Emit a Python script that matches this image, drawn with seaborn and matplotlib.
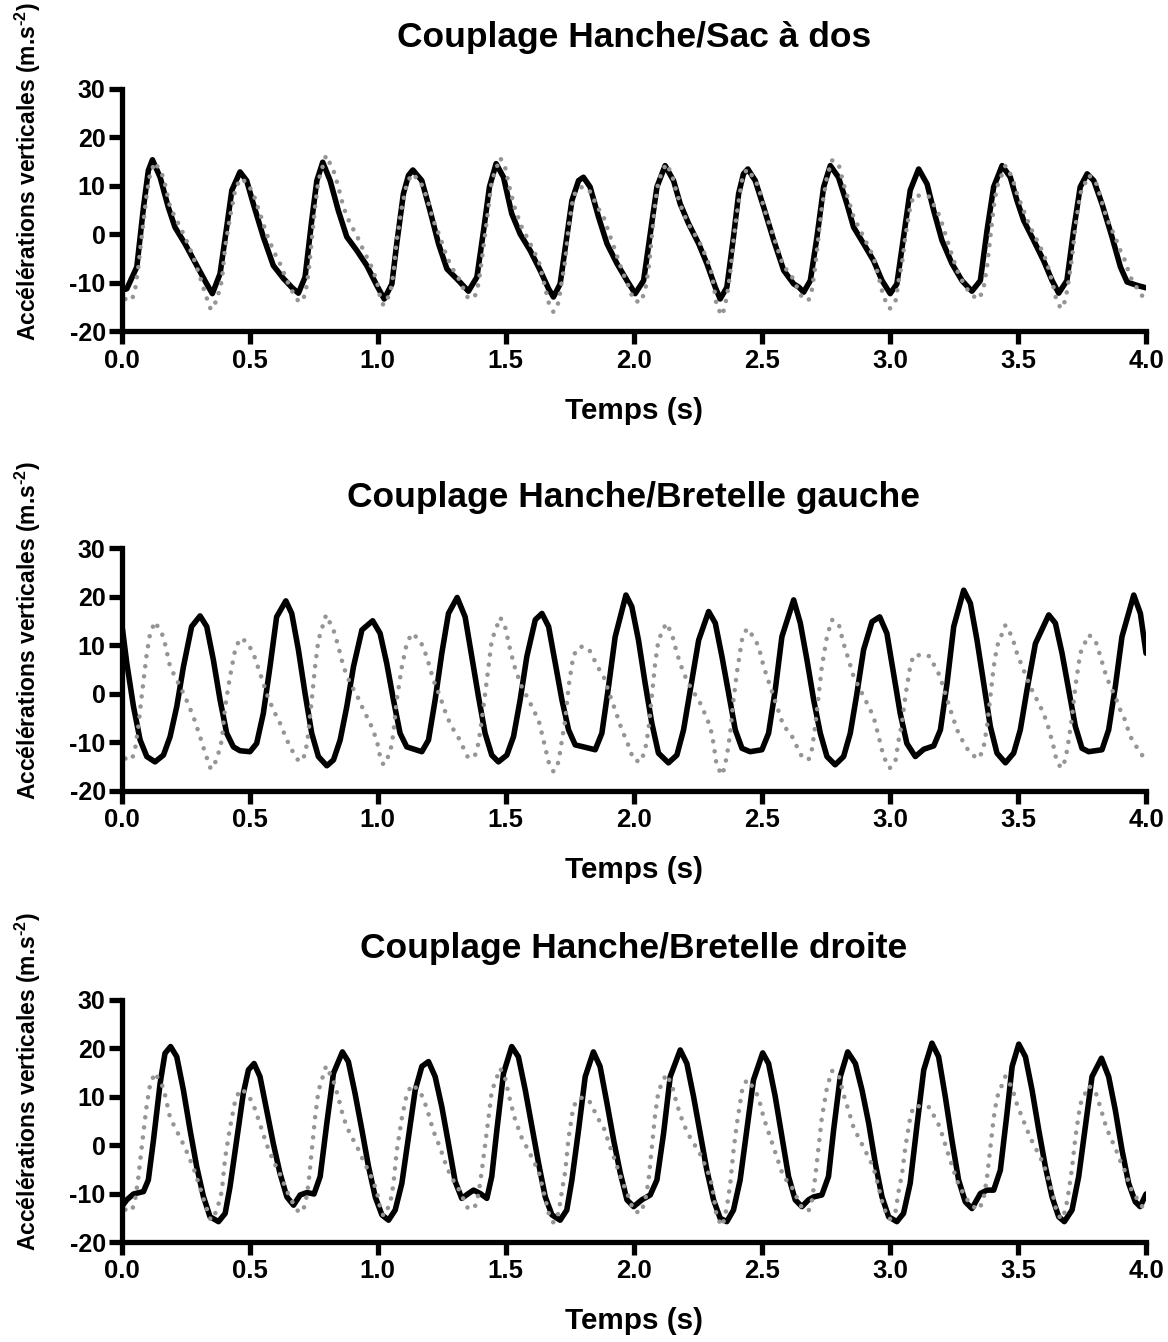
import matplotlib
matplotlib.use('Agg')
import pandas as pd
import matplotlib.pyplot as plt
import seaborn as sns

FIGURE_SIZE = (11.68, 13.42)
FIGURE_DPI = 100

# signal de la hanche (pointillés gris), le même dans les trois graphes
HIP_TIME = [0.000, 0.013, 0.039, 0.052, 0.065, 0.078, 0.098, 0.111, 0.130, 0.163, 0.189, 0.215, 0.247, 0.280,
            0.306, 0.326, 0.348, 0.371, 0.391, 0.404, 0.423, 0.443, 0.462, 0.488, 0.514, 0.540, 0.566, 0.592,
            0.618, 0.645, 0.671, 0.693, 0.716, 0.729, 0.742, 0.755, 0.768, 0.798, 0.827, 0.846, 0.866, 0.892,
            0.918, 0.944, 0.970, 0.996, 1.009, 1.022, 1.048, 1.061, 1.074, 1.094, 1.113, 1.133, 1.165, 1.191,
            1.217, 1.243, 1.270, 1.296, 1.315, 1.335, 1.354, 1.380, 1.393, 1.406, 1.426, 1.445, 1.478, 1.497,
            1.517, 1.536, 1.562, 1.589, 1.608, 1.628, 1.647, 1.667, 1.686, 1.706, 1.719, 1.732, 1.745, 1.764,
            1.790, 1.823, 1.842, 1.862, 1.882, 1.908, 1.927, 1.953, 1.973, 1.999, 2.027, 2.044, 2.057, 2.070,
            2.083, 2.096, 2.126, 2.148, 2.168, 2.194, 2.220, 2.240, 2.259, 2.279, 2.298, 2.311, 2.324, 2.346,
            2.363, 2.376, 2.389, 2.402, 2.422, 2.441, 2.467, 2.487, 2.507, 2.533, 2.559, 2.585, 2.611, 2.637,
            2.656, 2.682, 2.695, 2.708, 2.721, 2.734, 2.754, 2.773, 2.799, 2.819, 2.839, 2.858, 2.878, 2.897,
            2.917, 2.936, 2.956, 2.975, 2.999, 3.021, 3.034, 3.047, 3.060, 3.079, 3.092, 3.112, 3.154, 3.174,
            3.193, 3.206, 3.219, 3.232, 3.245, 3.262, 3.275, 3.294, 3.320, 3.349, 3.366, 3.379, 3.392, 3.405,
            3.418, 3.451, 3.477, 3.496, 3.522, 3.548, 3.574, 3.600, 3.620, 3.639, 3.650, 3.668, 3.685, 3.698,
            3.711, 3.724, 3.743, 3.776, 3.802, 3.822, 3.841, 3.861, 3.880, 3.893, 3.913, 3.939, 3.958, 3.984,
            4.000]
HIP_ACC = [-11.4, -13.3, -13.6, -11.5, -6.7, -0.5, 8.4, 12.5, 14.9, 11.8, 5.6, 2.9, -0.5, -4.7,
           -8.8, -12.2, -15.5, -13.6, -9.5, -2.6, 3.6, 9.1, 11.5, 10.8, 8.4, 4.3, 0.1, -3.3,
           -6.0, -9.5, -12.2, -14.0, -12.6, -8.1, -1.2, 5.6, 11.1, 16.3, 13.2, 9.8, 5.6, 2.2,
           -0.2, -3.3, -6.0, -9.5, -12.9, -14.6, -12.2, -8.1, -1.2, 5.6, 10.4, 12.5, 11.1, 7.7,
           2.9, -0.5, -4.7, -7.4, -9.0, -11.2, -13.3, -12.6, -10.2, -5.4, 2.9, 11.1, 15.8, 13.9,
           9.1, 5.3, 1.5, -1.2, -3.3, -5.4, -9.5, -14.0, -16.0, -14.0, -9.5, -5.4, 1.5, 8.0,
           9.8, 9.4, 7.4, 5.3, 3.6, -0.5, -3.3, -7.4, -9.8, -13.6, -14.0, -11.5, -7.4, -0.5,
           6.3, 11.1, 14.6, 12.5, 8.4, 4.3, 1.5, -0.2, -1.9, -4.3, -6.7, -10.2, -15.0, -16.7,
           -12.9, -8.1, -1.2, 4.3, 11.1, 13.5, 11.8, 9.8, 5.6, 1.5, -2.6, -6.7, -8.0, -10.9,
           -12.9, -13.6, -11.5, -6.7, -0.5, 5.6, 11.8, 15.3, 14.6, 10.4, 7.0, 3.6, 1.5, -0.5,
           -2.6, -4.7, -8.8, -12.9, -15.3, -14.0, -9.5, -6.0, -0.5, 5.6, 8.0, 8.0, 7.8, 5.8,
           3.9, 1.8, -0.4, -2.6, -4.7, -7.4, -8.8, -10.7, -12.6, -13.3, -10.9, -6.7, -0.5, 5.6,
           9.8, 14.2, 11.8, 8.4, 4.9, 1.5, -1.2, -4.0, -7.1, -10.9, -13.6, -15.3, -13.6, -9.5,
           -4.7, 1.5, 8.4, 12.2, 11.1, 7.7, 4.3, 1.5, -0.5, -2.6, -4.7, -8.8, -10.5, -12.6,
           -13.0]

# sac à dos (trait noir, graphe du haut)
SAC_TIME = [0.000, 0.020, 0.059, 0.085, 0.104, 0.120, 0.150, 0.182, 0.208, 0.247, 0.293, 0.332, 0.354, 0.384,
            0.410, 0.430, 0.462, 0.488, 0.514, 0.553, 0.592, 0.632, 0.664, 0.690, 0.716, 0.742, 0.762, 0.785,
            0.814, 0.846, 0.879, 0.918, 0.957, 0.996, 1.025, 1.055, 1.074, 1.100, 1.120, 1.137, 1.172, 1.204,
            1.237, 1.270, 1.315, 1.354, 1.387, 1.413, 1.436, 1.462, 1.491, 1.523, 1.556, 1.595, 1.634, 1.667,
            1.686, 1.712, 1.738, 1.758, 1.784, 1.803, 1.829, 1.862, 1.895, 1.934, 1.973, 2.005, 2.038, 2.064,
            2.090, 2.122, 2.155, 2.181, 2.214, 2.253, 2.285, 2.318, 2.337, 2.363, 2.389, 2.409, 2.428, 2.445,
            2.474, 2.507, 2.546, 2.585, 2.624, 2.645, 2.663, 2.689, 2.715, 2.741, 2.767, 2.799, 2.832, 2.858,
            2.897, 2.936, 2.969, 3.001, 3.027, 3.053, 3.079, 3.112, 3.145, 3.171, 3.203, 3.242, 3.281, 3.320,
            3.353, 3.379, 3.405, 3.438, 3.470, 3.496, 3.522, 3.561, 3.600, 3.633, 3.659, 3.691, 3.717, 3.743,
            3.770, 3.796, 3.828, 3.867, 3.900, 3.926, 3.965, 4.000]
SAC_ACC = [-11.5, -11.2, -6.7, 5.6, 13.2, 15.4, 11.8, 5.6, 1.5, -1.9, -6.4, -10.2, -12.2, -8.1,
           1.5, 9.1, 12.9, 11.1, 6.3, -0.5, -6.4, -9.1, -10.9, -12.1, -8.8, 2.9, 11.1, 14.9,
           11.1, 4.9, -0.5, -3.3, -6.4, -10.5, -13.3, -10.2, -1.9, 8.4, 12.2, 13.3, 11.1, 4.9,
           -1.9, -7.1, -9.5, -11.7, -8.8, 0.8, 9.8, 14.6, 11.8, 4.3, 0.1, -3.3, -7.4, -11.2,
           -12.9, -10.2, -0.5, 7.0, 11.1, 11.8, 9.8, 3.6, -1.9, -6.0, -9.5, -12.2, -9.5, 0.1,
           9.8, 14.2, 11.1, 6.3, 2.2, -1.9, -6.0, -10.9, -13.3, -10.9, -0.5, 8.4, 12.5, 13.5,
           11.1, 5.6, -1.2, -7.4, -10.2, -10.9, -11.9, -9.5, -0.5, 9.8, 14.2, 11.8, 6.3, 1.5,
           -1.9, -5.4, -9.5, -12.2, -10.2, -0.5, 9.1, 13.5, 10.4, 4.9, -1.2, -6.0, -9.5, -11.7,
           -9.5, 0.8, 9.8, 14.2, 11.8, 7.0, 2.9, -1.2, -5.4, -9.5, -12.1, -9.5, 0.8, 9.8,
           12.5, 11.1, 6.3, -0.5, -6.7, -9.8, -10.5, -11.0]

# bretelle gauche (trait noir, graphe du milieu)
GAUCHE_TIME = [0.000, 0.020, 0.046, 0.072, 0.098, 0.130, 0.163, 0.189, 0.215, 0.241, 0.273, 0.306, 0.332, 0.358,
               0.384, 0.410, 0.436, 0.462, 0.501, 0.527, 0.553, 0.579, 0.605, 0.641, 0.664, 0.690, 0.716, 0.742,
               0.768, 0.801, 0.827, 0.853, 0.879, 0.905, 0.938, 0.980, 1.009, 1.035, 1.061, 1.087, 1.113, 1.172,
               1.198, 1.224, 1.250, 1.276, 1.310, 1.341, 1.367, 1.393, 1.419, 1.445, 1.471, 1.504, 1.530, 1.556,
               1.582, 1.615, 1.641, 1.667, 1.693, 1.719, 1.745, 1.771, 1.803, 1.849, 1.875, 1.901, 1.927, 1.969,
               1.992, 2.018, 2.044, 2.070, 2.096, 2.135, 2.168, 2.194, 2.220, 2.253, 2.292, 2.318, 2.344, 2.370,
               2.396, 2.422, 2.454, 2.500, 2.526, 2.552, 2.578, 2.624, 2.650, 2.676, 2.702, 2.728, 2.754, 2.786,
               2.819, 2.845, 2.871, 2.897, 2.930, 2.960, 2.988, 3.014, 3.040, 3.066, 3.099, 3.132, 3.171, 3.197,
               3.223, 3.249, 3.288, 3.314, 3.340, 3.366, 3.392, 3.418, 3.451, 3.483, 3.509, 3.535, 3.568, 3.620,
               3.646, 3.672, 3.698, 3.724, 3.750, 3.776, 3.828, 3.854, 3.880, 3.906, 3.952, 3.978, 4.000]
GAUCHE_ACC = [14.6, 6.3, -2.6, -9.5, -12.9, -14.0, -12.6, -8.8, -2.6, 5.6, 13.9, 16.1, 13.9, 7.0,
              -1.2, -8.1, -10.9, -11.7, -11.9, -10.2, -4.0, 5.6, 15.9, 19.2, 16.6, 9.1, 0.1, -8.1,
              -12.9, -14.8, -13.6, -9.5, -2.6, 5.6, 13.2, 15.1, 12.5, 6.3, -1.2, -8.1, -10.9, -11.9,
              -9.5, -1.2, 8.4, 16.6, 19.9, 15.9, 7.7, -0.5, -8.1, -12.6, -14.0, -12.6, -8.8, -1.2,
              7.7, 15.3, 16.6, 13.9, 6.3, -1.2, -7.4, -10.5, -10.9, -11.5, -8.1, 1.5, 11.8, 20.4,
              18.0, 11.1, 2.2, -6.0, -12.2, -14.2, -12.6, -7.4, 0.8, 11.1, 17.0, 14.6, 7.7, 0.1,
              -7.4, -11.2, -11.9, -11.5, -8.1, 0.8, 11.8, 19.4, 14.6, 7.0, -1.2, -8.1, -12.9, -14.6,
              -12.9, -8.1, 0.1, 9.1, 14.9, 15.9, 12.5, 4.3, -4.0, -10.2, -12.9, -11.4, -10.7, -7.4,
              2.2, 13.9, 21.4, 18.7, 11.1, 2.2, -6.7, -12.2, -14.2, -12.2, -7.4, 0.8, 10.4, 16.3,
              14.6, 8.4, 0.8, -6.7, -11.2, -11.9, -11.5, -7.4, 1.5, 11.8, 20.4, 16.6, 8.4]

# bretelle droite (trait noir, graphe du bas)
DROITE_TIME = [0.000, 0.020, 0.046, 0.085, 0.104, 0.124, 0.150, 0.169, 0.191, 0.215, 0.241, 0.267, 0.293, 0.319,
               0.345, 0.378, 0.404, 0.423, 0.449, 0.475, 0.495, 0.517, 0.540, 0.566, 0.592, 0.618, 0.645, 0.671,
               0.697, 0.723, 0.751, 0.775, 0.801, 0.827, 0.862, 0.885, 0.911, 0.938, 0.964, 0.990, 1.016, 1.042,
               1.068, 1.094, 1.120, 1.146, 1.172, 1.198, 1.224, 1.250, 1.276, 1.302, 1.328, 1.354, 1.374, 1.400,
               1.426, 1.445, 1.465, 1.491, 1.523, 1.549, 1.576, 1.602, 1.628, 1.654, 1.680, 1.712, 1.738, 1.758,
               1.784, 1.810, 1.842, 1.868, 1.895, 1.921, 1.947, 1.973, 1.999, 2.031, 2.064, 2.090, 2.116, 2.142,
               2.181, 2.207, 2.233, 2.259, 2.285, 2.311, 2.337, 2.363, 2.389, 2.415, 2.441, 2.467, 2.503, 2.526,
               2.552, 2.578, 2.604, 2.630, 2.656, 2.682, 2.702, 2.734, 2.760, 2.780, 2.806, 2.835, 2.865, 2.891,
               2.917, 2.943, 2.969, 2.995, 3.027, 3.053, 3.079, 3.105, 3.132, 3.164, 3.190, 3.216, 3.242, 3.268,
               3.294, 3.320, 3.353, 3.379, 3.405, 3.431, 3.457, 3.477, 3.503, 3.529, 3.555, 3.581, 3.607, 3.633,
               3.659, 3.681, 3.711, 3.737, 3.763, 3.789, 3.826, 3.854, 3.880, 3.906, 3.932, 3.958, 3.977, 4.000]
DROITE_ACC = [-12.7, -11.3, -10.1, -9.6, -7.2, 1.0, 12.7, 18.9, 20.3, 18.2, 11.3, 3.1, -4.5, -10.6,
              -14.8, -15.8, -14.1, -8.6, 1.0, 10.7, 15.5, 16.8, 14.1, 7.2, 0.3, -5.8, -10.7, -12.4,
              -10.3, -9.8, -10.1, -6.5, 4.5, 14.8, 19.2, 17.2, 10.7, 3.1, -4.5, -10.7, -14.4, -15.5,
              -13.4, -7.9, 1.7, 11.3, 16.2, 17.2, 14.1, 7.9, 0.3, -7.5, -11.0, -10.0, -9.3, -10.0,
              -11.0, -6.5, 3.1, 14.8, 20.3, 18.2, 11.3, 3.8, -3.8, -10.7, -14.4, -15.5, -13.4, -7.2,
              3.1, 14.1, 19.2, 16.2, 8.6, 1.0, -5.8, -11.3, -12.7, -11.3, -10.3, -7.2, 2.4, 14.1,
              19.6, 16.8, 10.0, 2.4, -5.2, -11.3, -15.1, -15.8, -13.4, -7.2, 3.1, 13.4, 19.0, 16.8,
              10.0, 1.7, -6.5, -11.3, -12.7, -11.3, -10.7, -10.3, -6.5, 3.1, 14.1, 19.2, 16.8, 11.3,
              4.5, -3.8, -10.7, -14.8, -15.8, -14.1, -7.9, 3.8, 15.5, 21.0, 18.2, 10.0, 1.0, -7.2,
              -11.7, -13.1, -10.0, -9.3, -9.3, -5.2, 6.5, 16.2, 20.8, 18.2, 11.3, 3.1, -4.5, -10.7,
              -14.8, -15.8, -13.4, -6.5, 3.8, 14.1, 17.9, 14.1, 7.2, -1.0, -7.9, -11.7, -12.7, -10.1]

TITLES = ['Couplage Hanche/Sac à dos', 'Couplage Hanche/Bretelle gauche', 'Couplage Hanche/Bretelle droite']
X_TICKS = [0.0, 0.5, 1.0, 1.5, 2.0, 2.5, 3.0, 3.5, 4.0]
Y_TICKS = [-20, -10, 0, 10, 20, 30]
X_LABEL = 'Temps (s)'
Y_LABEL = 'Accélérations verticales (m.s$^{\\text{-2}}$)'

# positions des axes en fraction de la figure (gauche, bas, largeur, hauteur)
AXES_RECTS = [
    [0.1042, 0.7530, 0.8770, 0.1807],
    [0.1042, 0.4106, 0.8770, 0.1807],
    [0.1042, 0.0745, 0.8770, 0.1807],
]


def setup_style():
    sns.set_style('ticks')
    plt.rcParams['font.family'] = ['Liberation Sans', 'DejaVu Sans']
    plt.rcParams['font.weight'] = 'bold'
    plt.rcParams['text.color'] = 'black'
    plt.rcParams['axes.labelcolor'] = 'black'
    plt.rcParams['xtick.color'] = 'black'
    plt.rcParams['ytick.color'] = 'black'
    plt.rcParams['mathtext.fontset'] = 'custom'
    plt.rcParams['mathtext.default'] = 'bf'
    plt.rcParams['mathtext.bf'] = 'Liberation Sans:bold'
    plt.rcParams['mathtext.rm'] = 'Liberation Sans:bold'


def draw_panel(ax, time, acc, title):
    df_sensor = pd.DataFrame({'t': time, 'acc': acc})
    df_hip = pd.DataFrame({'t': HIP_TIME, 'acc': HIP_ACC})

    sns.lineplot(data=df_sensor, x='t', y='acc', ax=ax, color='black', linewidth=4.0,
                 estimator=None, sort=False, solid_joinstyle='round', solid_capstyle='round')
    sns.lineplot(data=df_hip, x='t', y='acc', ax=ax, color='#959595', linewidth=3.3,
                 estimator=None, sort=False, linestyle=(0, (0.01, 2.2)), dash_capstyle='round')

    ax.set_xlim(0, 4)
    ax.set_ylim(-20, 30)
    ax.set_xticks(X_TICKS)
    ax.set_xticklabels([f'{t:.1f}' for t in X_TICKS])
    ax.set_yticks(Y_TICKS)
    ax.set_yticklabels([str(v) for v in Y_TICKS])

    sns.despine(ax=ax)
    for side in ['left', 'bottom']:
        ax.spines[side].set_linewidth(3.8)
        ax.spines[side].set_color('black')

    ax.tick_params(axis='both', direction='out', length=9.5, width=3.8, color='black', labelcolor='black')
    ax.tick_params(axis='x', labelsize=18.5, pad=3)
    ax.tick_params(axis='y', labelsize=18, pad=2)
    for lab in ax.get_xticklabels() + ax.get_yticklabels():
        lab.set_fontweight('bold')

    ax.set_title(title, fontsize=25.5, fontweight='bold', pad=30, color='black')
    ax.set_xlabel(X_LABEL, fontsize=21.3, fontweight='bold')
    ax.xaxis.set_label_coords(0.5, -0.27)
    ax.set_ylabel(Y_LABEL, fontsize=16.5, fontweight='bold')
    ax.yaxis.set_label_coords(-0.077, 0.66)


def main():
    setup_style()
    fig = plt.figure(figsize=FIGURE_SIZE, dpi=FIGURE_DPI)
    series = [(SAC_TIME, SAC_ACC), (GAUCHE_TIME, GAUCHE_ACC), (DROITE_TIME, DROITE_ACC)]
    for rect, (time, acc), title in zip(AXES_RECTS, series, TITLES):
        ax = fig.add_axes(rect)
        draw_panel(ax, time, acc, title)
    fig.savefig('out.png', dpi=FIGURE_DPI, facecolor='white')
    plt.close(fig)


if __name__ == '__main__':
    main()
